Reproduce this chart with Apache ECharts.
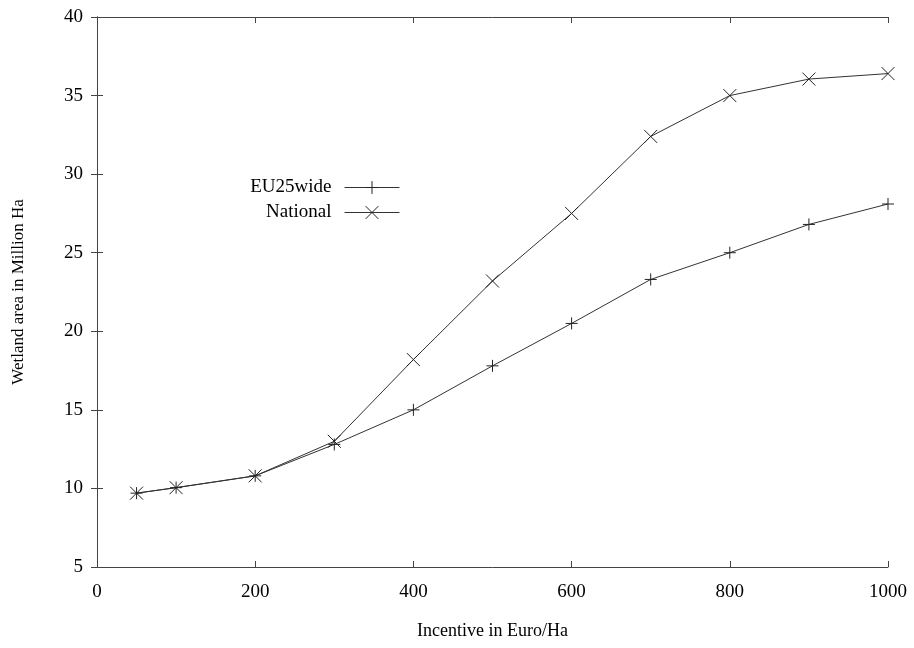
<!DOCTYPE html>
<html>
<head>
<meta charset="utf-8">
<script src="https://cdn.jsdelivr.net/npm/echarts@6/dist/echarts.min.js"></script>
<style>html,body{margin:0;padding:0;background:#fff}#c{width:914px;height:648px}</style>
</head>
<body>
<div id="c"></div>
<script>
var incentive = [50, 100, 200, 300, 400, 500, 600, 700, 800, 900, 1000];
var eu25wide = [9.7, 10.05, 10.8, 12.8, 15.0, 17.8, 20.5, 23.3, 25.0, 26.8, 28.1];
var national = [9.7, 10.05, 10.8, 13.0, 18.2, 23.2, 27.5, 32.4, 35.0, 36.05, 36.4];
var xTicks = [0, 200, 400, 600, 800, 1000];
var yTicks = [5, 10, 15, 20, 25, 30, 35, 40];

function pairs(xs, ys) { return xs.map(function (x, i) { return [x, ys[i]]; }); }

var font = '"Liberation Serif", "DejaVu Serif", serif';
var lineCol = '#333';
var plus = 'path://M0,-1L0,1M-1,0L1,0';
var cross = 'path://M-1,-1L1,1M-1,1L1,-1';

var axisCommon = {
  axisLine: { show: true, lineStyle: { color: '#444', width: 1 } },
  axisTick: { show: true, inside: true, length: 6, lineStyle: { color: '#444' } },
  splitLine: { show: false }
};

var chart = echarts.init(document.getElementById('c'));
chart.setOption({
  animation: false,
  backgroundColor: '#fff',
  grid: { left: 97, right: 26, top: 17, bottom: 81, containLabel: false },
  legend: {
    orient: 'vertical',
    right: 514,
    top: 178,
    padding: 0,
    align: 'right',
    itemWidth: 55,
    itemHeight: 16,
    itemGap: 6,
    lineStyle: { width: 1 },
    itemStyle: { borderWidth: 1 },
    textStyle: { fontFamily: font, fontSize: 19, color: '#000', padding: [0, 8, 0, 0] },
    data: ['EU25wide', 'National']
  },
  xAxis: [
    Object.assign({
      type: 'value', min: 0, max: 1000, interval: 200, position: 'bottom',
      name: 'Incentive in Euro/Ha', nameLocation: 'middle', nameGap: 55,
      nameTextStyle: { fontFamily: font, fontSize: 18, color: '#000' },
      axisLabel: { fontFamily: font, fontSize: 19, color: '#000', margin: 16,
        formatter: function (v) { return String(v); } }
    }, axisCommon),
    Object.assign({
      type: 'value', min: 0, max: 1000, interval: 200, position: 'top',
      axisLabel: { show: false }
    }, axisCommon)
  ],
  yAxis: [
    Object.assign({
      type: 'value', min: 5, max: 40, interval: 5, position: 'left',
      name: 'Wetland area in Million Ha', nameLocation: 'middle', nameGap: 70,
      nameTextStyle: { fontFamily: font, fontSize: 17, color: '#000' },
      axisLabel: { fontFamily: font, fontSize: 19, color: '#000', margin: 14 }
    }, axisCommon),
    Object.assign({
      type: 'value', min: 5, max: 40, interval: 5, position: 'right',
      axisLabel: { show: false }
    }, axisCommon)
  ],
  series: [
    {
      name: 'EU25wide', type: 'line', data: pairs(incentive, eu25wide),
      symbol: plus, symbolSize: 12,
      lineStyle: { color: lineCol, width: 1 },
      itemStyle: { color: lineCol, borderColor: '#222', borderWidth: 1 }
    },
    {
      name: 'National', type: 'line', data: pairs(incentive, national),
      symbol: cross, symbolSize: 13,
      lineStyle: { color: lineCol, width: 1 },
      itemStyle: { color: lineCol, borderColor: '#222', borderWidth: 1 }
    }
  ]
});
</script>
</body>
</html>
